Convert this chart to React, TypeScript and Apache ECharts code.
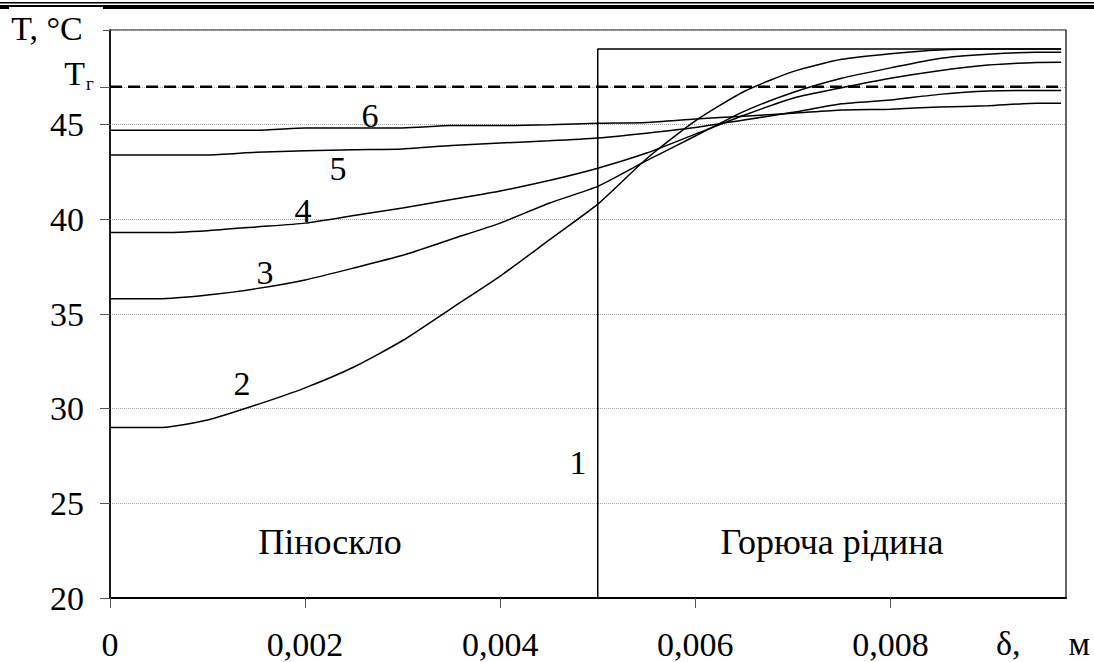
import React, { useEffect, useRef } from "react";
import * as echarts from "echarts";

// δ, m
const X = [0, 0.0005, 0.001, 0.0015, 0.002, 0.0025, 0.003, 0.0035, 0.004, 0.0045, 0.005, 0.0055, 0.006, 0.0065, 0.007, 0.0075, 0.008, 0.0085, 0.009, 0.0095, 0.00975];
// T, °C
const curve2 = [29.0, 29.0, 29.4, 30.2, 31.1, 32.2, 33.6, 35.3, 37.0, 38.9, 40.8, 43.2, 45.2, 46.75, 47.8, 48.45, 48.75, 48.95, 49.0, 49.0, 49.0];
const curve3 = [35.8, 35.8, 36.0, 36.34, 36.8, 37.43, 38.1, 38.95, 39.8, 40.85, 41.74, 43.1, 44.4, 45.7, 46.7, 47.45, 48.0, 48.5, 48.72, 48.82, 48.82];
const curve4 = [39.3, 39.3, 39.4, 39.6, 39.8, 40.2, 40.6, 41.05, 41.5, 42.05, 42.7, 43.5, 44.5, 45.5, 46.4, 46.95, 47.45, 47.85, 48.15, 48.29, 48.3];
const curve5 = [43.4, 43.4, 43.4, 43.54, 43.62, 43.68, 43.72, 43.9, 44.03, 44.15, 44.3, 44.55, 44.85, 45.25, 45.65, 46.1, 46.3, 46.6, 46.78, 46.81, 46.81];
const curve6 = [44.7, 44.7, 44.7, 44.7, 44.82, 44.83, 44.83, 44.95, 44.95, 45.0, 45.08, 45.12, 45.3, 45.45, 45.6, 45.78, 45.82, 45.93, 46.0, 46.13, 46.13];
// curve 1: step at the interface
const line1X = [0.005, 0.005, 0.00975];
const line1Y = [20, 49, 49];
// gas temperature Tг
const TG = 47;
const tgX = [0, 0.00975];

const xTicks = [0, 0.002, 0.004, 0.006, 0.008];
const yTicks = [20, 25, 30, 35, 40, 45];
const yTickMarks = [20, 25, 30, 35, 40, 45, 47, 50];

const FONT = "Liberation Serif";
const FS = 34;

const pairs = (xs: number[], ys: number[]) => xs.map((x, i) => [x, ys[i]]);

export default function App() {
  const ref = useRef<HTMLDivElement>(null);
  useEffect(() => {
    if (!ref.current) return;
    const chart = echarts.init(ref.current, null, { renderer: "svg" });
    const curveStyle = { color: "#000", width: 1.5 };
    const mk = (ys: number[]) => ({
      type: "line",
      data: pairs(X, ys),
      symbol: "none",
      smooth: 0.2,
      lineStyle: curveStyle,
      z: 3,
    });
    const txt = (text: string, x: number, y: number, extra: any = {}) => ({
      type: "text",
      x,
      y,
      z: 100,
      style: {
        text,
        fill: "#000",
        fontFamily: FONT,
        fontSize: FS,
        align: "center",
        verticalAlign: "middle",
        ...extra,
      },
    });
    chart.setOption({
      animation: false,
      backgroundColor: "#fff",
      grid: {
        left: 110,
        top: 30,
        width: 956,
        height: 568,
        show: true,
        borderColor: "#000",
        borderWidth: 1.2,
      },
      xAxis: {
        type: "value",
        min: 0,
        max: 0.0098,
        interval: 0.002,
        axisLine: { show: true, lineStyle: { color: "#000", width: 2 } },
        axisTick: {
          show: true,
          length: 10,
          customValues: xTicks,
          lineStyle: { color: "#555", width: 1 },
        },
        axisLabel: {
          customValues: xTicks,
          margin: 29,
          color: "#000",
          fontFamily: FONT,
          fontSize: FS,
          formatter: (v: number) => (v === 0 ? "0" : v.toFixed(3).replace(".", ",")),
        },
        splitLine: { show: false },
      },
      yAxis: {
        type: "value",
        min: 20,
        max: 50,
        interval: 5,
        axisLine: { show: true, lineStyle: { color: "#000", width: 1.5 } },
        axisTick: {
          show: true,
          length: 10,
          customValues: yTickMarks,
          lineStyle: { color: "#555", width: 1 },
        },
        axisLabel: {
          customValues: yTicks,
          margin: 26,
          color: "#000",
          fontFamily: FONT,
          fontSize: FS,
        },
        splitLine: {
          show: true,
          lineStyle: { color: "#aaa", width: 1, type: "dotted" },
        },
      },
      series: [
        {
          type: "line",
          data: pairs(tgX, [TG, TG]),
          symbol: "none",
          lineStyle: { color: "#000", width: 2.5, type: [12, 6] },
          z: 2,
        },
        {
          type: "line",
          data: pairs(line1X, line1Y),
          symbol: "none",
          lineStyle: curveStyle,
          z: 3,
        },
        mk(curve2),
        mk(curve3),
        mk(curve4),
        mk(curve5),
        mk(curve6),
      ],
      graphic: [
        { type: "rect", shape: { x: 0, y: 2, width: 1094, height: 1.5 }, style: { fill: "#000" }, z: 50 },
        { type: "rect", shape: { x: 0, y: 5, width: 1094, height: 4 }, style: { fill: "#000" }, z: 50 },
        { type: "rect", shape: { x: 9, y: 7, width: 94, height: 40 }, style: { fill: "#fff" }, z: 60 },
        txt("T, °C", 47, 28),
        txt("T", 85, 73, { align: "right" }),
        txt("г", 86, 83, { align: "left", fontSize: 19 }),
        txt("6", 370, 115),
        txt("5", 338, 168),
        txt("4", 303, 210),
        txt("3", 265, 272),
        txt("2", 242, 383),
        txt("1", 578, 462),
        txt("Піноскло", 330, 542, { fontSize: 36 }),
        txt("Горюча рідина", 832, 542, { fontSize: 36 }),
        txt("δ,", 996, 643, { align: "left" }),
        txt("м", 1090, 643, { align: "right" }),
      ],
    });
    return () => chart.dispose();
  }, []);
  return (
    <div
      ref={ref}
      style={{ position: "absolute", left: 0, top: 0, width: 1094, height: 662, background: "#fff" }}
    />
  );
}
